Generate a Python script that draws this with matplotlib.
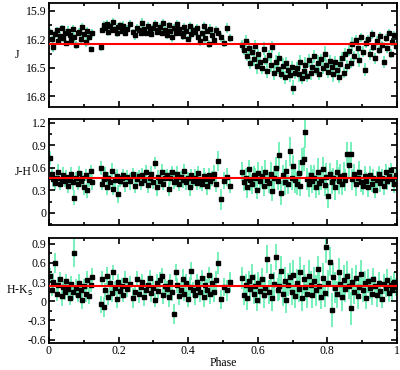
import numpy as np
import matplotlib.pyplot as plt
from matplotlib.ticker import MultipleLocator

phase = [
    0.003, 0.008, 0.012, 0.018, 0.022, 0.027, 0.031, 0.036, 0.041, 0.045,
    0.050, 0.055, 0.059, 0.064, 0.068, 0.073, 0.078, 0.082, 0.087, 0.091,
    0.096, 0.101, 0.106, 0.110, 0.115, 0.120, 0.124, 0.148, 0.152, 0.157,
    0.161, 0.166, 0.170, 0.175, 0.180, 0.184, 0.189, 0.194, 0.199, 0.204,
    0.209, 0.214, 0.219, 0.225, 0.232, 0.240, 0.246, 0.252, 0.258, 0.263,
    0.268, 0.274, 0.279, 0.284, 0.289, 0.294, 0.299, 0.304, 0.309, 0.314,
    0.319, 0.324, 0.329, 0.334, 0.339, 0.344, 0.349, 0.354, 0.359, 0.364,
    0.369, 0.374, 0.379, 0.384, 0.389, 0.394, 0.399, 0.404, 0.409, 0.414,
    0.419, 0.424, 0.429, 0.434, 0.439, 0.444, 0.449, 0.454, 0.459, 0.464,
    0.469, 0.474, 0.479, 0.486, 0.494, 0.503, 0.512, 0.521, 0.556, 0.560,
    0.565, 0.569, 0.574, 0.578, 0.583, 0.588, 0.592, 0.597, 0.602, 0.607,
    0.612, 0.617, 0.622, 0.627, 0.632, 0.637, 0.642, 0.647, 0.652, 0.657,
    0.662, 0.667, 0.672, 0.677, 0.682, 0.687, 0.692, 0.697, 0.702, 0.707,
    0.712, 0.717, 0.722, 0.727, 0.732, 0.737, 0.742, 0.747, 0.752, 0.757,
    0.762, 0.767, 0.772, 0.777, 0.782, 0.787, 0.792, 0.797, 0.802, 0.807,
    0.812, 0.817, 0.822, 0.827, 0.832, 0.837, 0.842, 0.847, 0.852, 0.857,
    0.862, 0.867, 0.872, 0.877, 0.882, 0.887, 0.892, 0.897, 0.902, 0.907,
    0.912, 0.917, 0.922, 0.927, 0.932, 0.937, 0.942, 0.947, 0.952, 0.957,
    0.962, 0.967, 0.972, 0.977, 0.982, 0.987, 0.992, 0.997]

J = [
    16.12, 16.20, 16.28, 16.15, 16.10, 16.22, 16.17, 16.08, 16.19, 16.13,
    16.24, 16.11, 16.16, 16.21, 16.09, 16.18, 16.26, 16.14, 16.12, 16.20,
    16.07, 16.15, 16.23, 16.11, 16.18, 16.30, 16.14, 16.28, 16.10, 16.05,
    16.08, 16.04, 16.12, 16.06, 16.10, 16.02, 16.09, 16.13, 16.07, 16.05,
    16.11, 16.06, 16.14, 16.09, 16.04, 16.12, 16.16, 16.08, 16.10, 16.13,
    16.03, 16.09, 16.13, 16.06, 16.11, 16.15, 16.08, 16.04, 16.12, 16.10,
    16.07, 16.13, 16.03, 16.10, 16.16, 16.05, 16.11, 16.18, 16.08, 16.14,
    16.04, 16.09, 16.13, 16.17, 16.07, 16.11, 16.20, 16.06, 16.15, 16.10,
    16.12, 16.08, 16.18, 16.22, 16.14, 16.06, 16.19, 16.11, 16.25, 16.09,
    16.16, 16.21, 16.10, 16.13, 16.18, 16.24, 16.08, 16.19, 16.26, 16.31,
    16.22, 16.38, 16.29, 16.45, 16.33, 16.41, 16.27, 16.48, 16.36, 16.44,
    16.50, 16.30, 16.42, 16.53, 16.37, 16.47, 16.28, 16.55, 16.44, 16.51,
    16.40, 16.56, 16.48, 16.60, 16.45, 16.52, 16.58, 16.49, 16.71, 16.55,
    16.50, 16.57, 16.44, 16.61, 16.53, 16.47, 16.59, 16.42, 16.55, 16.49,
    16.38, 16.52, 16.45, 16.56, 16.41, 16.50, 16.35, 16.47, 16.54, 16.43,
    16.49, 16.57, 16.44, 16.52, 16.60, 16.46, 16.40, 16.55, 16.36, 16.48,
    16.32, 16.45, 16.25, 16.38, 16.21, 16.29, 16.42, 16.18, 16.33, 16.52,
    16.24, 16.20, 16.36, 16.15, 16.28, 16.40, 16.22, 16.31, 16.17, 16.26,
    16.44, 16.19, 16.29, 16.13, 16.35, 16.23, 16.16, 16.27]

J_err = [
    0.04, 0.03, 0.05, 0.04, 0.03, 0.04, 0.05, 0.03, 0.04, 0.04,
    0.03, 0.05, 0.04, 0.03, 0.04, 0.05, 0.04, 0.03, 0.04, 0.05,
    0.04, 0.03, 0.05, 0.04, 0.04, 0.03, 0.05, 0.04, 0.03, 0.04,
    0.03, 0.04, 0.05, 0.03, 0.04, 0.04, 0.03, 0.05, 0.04, 0.03,
    0.04, 0.05, 0.03, 0.04, 0.04, 0.03, 0.05, 0.04, 0.03, 0.04,
    0.05, 0.04, 0.03, 0.04, 0.05, 0.03, 0.04, 0.04, 0.03, 0.05,
    0.04, 0.03, 0.04, 0.05, 0.04, 0.03, 0.04, 0.05, 0.04, 0.03,
    0.04, 0.05, 0.03, 0.04, 0.04, 0.05, 0.03, 0.04, 0.05, 0.04,
    0.05, 0.04, 0.03, 0.05, 0.04, 0.04, 0.05, 0.03, 0.04, 0.05,
    0.04, 0.05, 0.04, 0.03, 0.05, 0.04, 0.05, 0.04, 0.05, 0.06,
    0.06, 0.05, 0.07, 0.06, 0.05, 0.07, 0.06, 0.08, 0.06, 0.07,
    0.06, 0.07, 0.05, 0.08, 0.06, 0.07, 0.06, 0.08, 0.07, 0.06,
    0.07, 0.06, 0.08, 0.07, 0.06, 0.09, 0.07, 0.06, 0.08, 0.07,
    0.06, 0.08, 0.07, 0.06, 0.07, 0.08, 0.06, 0.07, 0.08, 0.06,
    0.07, 0.06, 0.08, 0.07, 0.06, 0.07, 0.08, 0.06, 0.07, 0.06,
    0.07, 0.08, 0.06, 0.07, 0.06, 0.08, 0.07, 0.06, 0.07, 0.06,
    0.06, 0.05, 0.07, 0.06, 0.05, 0.06, 0.07, 0.05, 0.06, 0.07,
    0.05, 0.04, 0.06, 0.05, 0.04, 0.06, 0.05, 0.04, 0.05, 0.04,
    0.06, 0.04, 0.05, 0.04, 0.05, 0.04, 0.05, 0.04]

JH = [
    0.73, 0.52, 0.45, 0.40, 0.47, 0.55, 0.38, 0.44, 0.50, 0.42,
    0.48, 0.36, 0.44, 0.52, 0.41, 0.20, 0.46, 0.39, 0.53, 0.43,
    0.47, 0.35, 0.50, 0.30, 0.44, 0.56, 0.41, 0.60, 0.38, 0.45,
    0.52, 0.34, 0.47, 0.41, 0.56, 0.32, 0.44, 0.49, 0.25, 0.43,
    0.46, 0.51, 0.38, 0.48, 0.42, 0.52, 0.36, 0.45, 0.49, 0.40,
    0.50, 0.44, 0.55, 0.37, 0.47, 0.52, 0.41, 0.66, 0.34, 0.48,
    0.43, 0.55, 0.39, 0.46, 0.50, 0.32, 0.47, 0.54, 0.41, 0.45,
    0.52, 0.38, 0.48, 0.44, 0.56, 0.41, 0.46, 0.35, 0.50, 0.43,
    0.47, 0.40, 0.53, 0.44, 0.38, 0.49, 0.45, 0.36, 0.51, 0.42,
    0.46, 0.52, 0.39, 0.69, 0.18, 0.43, 0.48, 0.36, 0.55, 0.41,
    0.47, 0.34, 0.58, 0.44, 0.38, 0.51, 0.46, 0.31, 0.53, 0.42,
    0.49, 0.36, 0.55, 0.44, 0.40, 0.52, 0.29, 0.47, 0.60, 0.43,
    0.77, 0.27, 0.50, 0.41, 0.56, 0.38, 0.82, 0.46, 0.62, 0.44,
    0.39, 0.53, 0.36, 0.68, 0.72, 1.08, 0.45, 0.38, 0.50, 0.42,
    0.47, 0.35, 0.55, 0.40, 0.44, 0.58, 0.37, 0.48, 0.23, 0.52,
    0.41, 0.46, 0.34, 0.55, 0.43, 0.49, 0.38, 0.51, 0.44, 0.79,
    0.64, 0.79, 0.45, 0.52, 0.38, 0.47, 0.55, 0.41, 0.36, 0.49,
    0.43, 0.34, 0.50, 0.38, 0.46, 0.31, 0.44, 0.52, 0.40, 0.47,
    0.36, 0.55, 0.42, 0.49, 0.57, 0.45, 0.38, 0.51]

JH_err = [
    0.09, 0.08, 0.10, 0.09, 0.07, 0.10, 0.08, 0.09, 0.11, 0.08,
    0.09, 0.10, 0.08, 0.09, 0.11, 0.10, 0.08, 0.09, 0.10, 0.08,
    0.09, 0.11, 0.08, 0.10, 0.09, 0.08, 0.10, 0.09, 0.08, 0.11,
    0.09, 0.10, 0.08, 0.09, 0.11, 0.08, 0.10, 0.09, 0.12, 0.08,
    0.09, 0.08, 0.10, 0.09, 0.11, 0.08, 0.09, 0.10, 0.08, 0.09,
    0.10, 0.08, 0.09, 0.11, 0.08, 0.10, 0.09, 0.08, 0.11, 0.09,
    0.08, 0.10, 0.09, 0.11, 0.08, 0.09, 0.10, 0.08, 0.09, 0.11,
    0.10, 0.09, 0.08, 0.11, 0.09, 0.10, 0.08, 0.12, 0.09, 0.10,
    0.11, 0.09, 0.10, 0.12, 0.09, 0.11, 0.10, 0.12, 0.09, 0.11,
    0.10, 0.12, 0.11, 0.13, 0.14, 0.11, 0.12, 0.10, 0.13, 0.12,
    0.13, 0.14, 0.12, 0.15, 0.13, 0.12, 0.14, 0.13, 0.15, 0.12,
    0.14, 0.13, 0.15, 0.12, 0.14, 0.16, 0.13, 0.15, 0.14, 0.13,
    0.18, 0.16, 0.14, 0.17, 0.15, 0.13, 0.19, 0.16, 0.15, 0.17,
    0.15, 0.17, 0.14, 0.18, 0.16, 0.22, 0.15, 0.17, 0.14, 0.16,
    0.17, 0.15, 0.18, 0.16, 0.14, 0.17, 0.15, 0.18, 0.16, 0.15,
    0.16, 0.14, 0.17, 0.15, 0.18, 0.16, 0.14, 0.17, 0.15, 0.16,
    0.16, 0.15, 0.14, 0.13, 0.15, 0.12, 0.14, 0.13, 0.12, 0.14,
    0.11, 0.13, 0.12, 0.10, 0.13, 0.11, 0.12, 0.10, 0.12, 0.11,
    0.12, 0.10, 0.11, 0.12, 0.10, 0.11, 0.12, 0.10]

HK = [
    0.40, 0.18, 0.30, 0.60, 0.12, 0.25, 0.34, 0.08, 0.22, 0.15,
    0.31, 0.19, 0.05, 0.27, 0.14, 0.75, 0.21, 0.10, 0.29, 0.17,
    0.02, 0.24, 0.12, 0.33, 0.08, 0.26, 0.38, -0.05, 0.35, -0.09,
    0.18, 0.40, 0.06, 0.28, 0.13, 0.45, 0.21, 0.03, 0.30, 0.16,
    0.24, 0.09, 0.33, 0.19, 0.27, 0.05, 0.14, 0.35, 0.11, 0.22,
    0.30, 0.07, 0.18, 0.26, 0.37, 0.13, 0.21, 0.02, 0.29, 0.16,
    0.33, 0.40, 0.10, 0.24, 0.19, 0.06, 0.30, 0.14, -0.20, 0.45,
    0.25, 0.08, 0.17, 0.35, 0.12, 0.28, 0.04, 0.22, 0.47, 0.18,
    0.09, 0.30, 0.20, 0.14, 0.36, 0.06, 0.25, 0.18, 0.41, 0.11,
    0.28, 0.15, 0.33, 0.60, 0.03, 0.22, 0.17, 0.30, 0.36, 0.10,
    0.26, 0.05, 0.31, 0.19, 0.38, 0.12, 0.24, 0.02, 0.29, 0.16,
    0.34, 0.09, 0.21, 0.66, 0.14, 0.40, 0.05, 0.27, 0.69, 0.18,
    0.23, 0.48, 0.11, 0.32, 0.02, 0.26, 0.38, 0.15, 0.41, 0.08,
    0.29, 0.19, 0.45, 0.05, 0.34, 0.22, 0.12, 0.40, 0.26, 0.09,
    0.31, 0.17, 0.50, 0.24, 0.07, 0.36, 0.13, 0.85, 0.28, 0.62,
    -0.14, 0.38, 0.21, 0.11, 0.45, 0.27, 0.06, 0.33, 0.19, 0.40,
    0.24, -0.11, 0.30, 0.14, 0.36, 0.08, 0.22, 0.43, 0.17, 0.28,
    0.05, 0.32, 0.20, 0.12, 0.35, 0.24, 0.09, 0.29, 0.16, 0.04,
    0.27, 0.21, 0.33, 0.13, 0.25, 0.18, 0.30, 0.22]

HK_err = [
    0.12, 0.10, 0.14, 0.16, 0.11, 0.13, 0.12, 0.15, 0.10, 0.13,
    0.12, 0.14, 0.11, 0.13, 0.12, 0.22, 0.14, 0.11, 0.13, 0.12,
    0.14, 0.11, 0.13, 0.15, 0.12, 0.11, 0.14, 0.13, 0.12, 0.15,
    0.11, 0.14, 0.12, 0.13, 0.15, 0.12, 0.11, 0.14, 0.13, 0.12,
    0.13, 0.11, 0.14, 0.12, 0.13, 0.15, 0.11, 0.12, 0.14, 0.13,
    0.12, 0.14, 0.11, 0.13, 0.12, 0.15, 0.13, 0.11, 0.14, 0.12,
    0.13, 0.12, 0.14, 0.11, 0.13, 0.15, 0.12, 0.14, 0.16, 0.13,
    0.12, 0.14, 0.13, 0.15, 0.12, 0.14, 0.13, 0.16, 0.14, 0.12,
    0.15, 0.13, 0.14, 0.16, 0.13, 0.15, 0.14, 0.16, 0.13, 0.15,
    0.14, 0.16, 0.15, 0.17, 0.15, 0.14, 0.16, 0.15, 0.17, 0.16,
    0.17, 0.19, 0.16, 0.18, 0.20, 0.17, 0.19, 0.18, 0.17, 0.20,
    0.18, 0.20, 0.17, 0.22, 0.19, 0.18, 0.21, 0.19, 0.20, 0.18,
    0.21, 0.23, 0.19, 0.22, 0.20, 0.18, 0.22, 0.21, 0.23, 0.19,
    0.22, 0.20, 0.24, 0.21, 0.23, 0.20, 0.22, 0.24, 0.21, 0.20,
    0.22, 0.24, 0.21, 0.23, 0.20, 0.24, 0.22, 0.25, 0.21, 0.23,
    0.27, 0.22, 0.24, 0.21, 0.23, 0.20, 0.22, 0.24, 0.21, 0.23,
    0.20, 0.26, 0.22, 0.19, 0.21, 0.20, 0.18, 0.21, 0.19, 0.20,
    0.17, 0.19, 0.16, 0.18, 0.17, 0.15, 0.18, 0.16, 0.17, 0.15,
    0.16, 0.14, 0.17, 0.15, 0.14, 0.16, 0.15, 0.14]

mean_J = 16.25
mean_JH = 0.46
mean_HK = 0.24

plt.rcParams['font.family'] = ['Liberation Serif', 'DejaVu Serif']
plt.rcParams['font.size'] = 8.5

fig = plt.figure(figsize=(4, 3.7), dpi=100)
axJ = fig.add_axes([0.1225, 0.711, 0.87, 0.281])
axJH = fig.add_axes([0.1225, 0.392, 0.87, 0.286])
axHK = fig.add_axes([0.1225, 0.072, 0.87, 0.285])

green = '#6cf0b6'
panels = [
    (axJ, J, J_err, mean_J, 'J', (16.91, 15.82), [15.9, 16.2, 16.5, 16.8], ['15.9', '16.2', '16.5', '16.8']),
    (axJH, JH, JH_err, mean_JH, 'J-H', (-0.16, 1.25), [0, 0.3, 0.6, 0.9, 1.2], ['0', '0.3', '0.6', '0.9', '1.2']),
    (axHK, HK, HK_err, mean_HK, 'H-K$_\\mathrm{s}$', (-0.66, 0.99), [-0.6, -0.3, 0, 0.3, 0.6, 0.9],
     ['-0.6', '-0.3', '0', '0.3', '0.6', '0.9']),
]

for ax, y, e, m, lab, lim, ticks, tlabels in panels:
    ax.errorbar(phase, y, yerr=e, fmt='none', ecolor=green, elinewidth=1.3, capsize=0, zorder=1)
    ax.plot(phase, y, 's', color='black', markersize=2.2, zorder=2)
    ax.axhline(m, color='red', linewidth=1.5, zorder=3)
    ax.set_xlim(0, 1)
    ax.set_ylim(*lim)
    ax.set_yticks(ticks)
    ax.set_yticklabels(tlabels)
    ax.yaxis.set_minor_locator(MultipleLocator(0.15))
    ax.xaxis.set_major_locator(MultipleLocator(0.2))
    ax.xaxis.set_minor_locator(MultipleLocator(0.1))
    ax.tick_params(which='both', direction='in', top=True, right=True, width=1.2)
    ax.tick_params(which='major', length=4, pad=2)
    ax.tick_params(which='minor', length=2.5)
    for s in ax.spines.values():
        s.set_linewidth(1.3)
    ax.set_ylabel(lab, rotation=0, labelpad=6, va='center')

axJ.set_xticklabels([])
axJH.set_xticklabels([])
axHK.set_xticks([0, 0.2, 0.4, 0.6, 0.8, 1.0])
axHK.set_xticklabels(['0', '0.2', '0.4', '0.6', '0.8', '1'])
axHK.tick_params(axis='x', pad=1)
axHK.set_xlabel('Phase', labelpad=0)

fig.savefig('out.png', dpi=100)
